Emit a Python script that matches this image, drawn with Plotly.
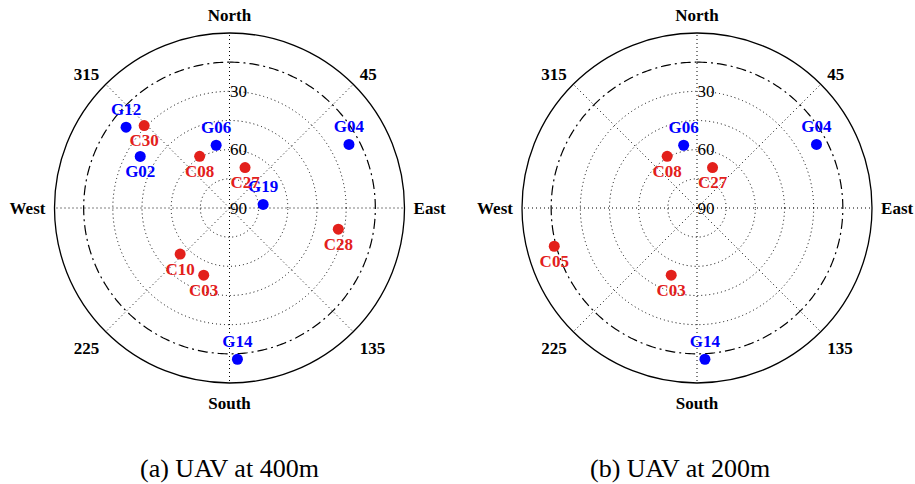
import numpy as np
import plotly.graph_objects as go

# ---------------- data ----------------
# (a) UAV at 400m
a_prn = ["G12", "C30", "G02", "G06", "C08", "C27", "G19", "G04", "C28", "C10", "C03", "G14"]
a_az = [308, 314, 300, 348, 330, 21, 84, 62, 101, 227, 201, 177]
a_el = [22.5, 29, 37, 57, 59.3, 67.7, 72.6, 20.4, 33, 55.3, 53, 12.1]
a_pos = ["top", "bottom", "bottom", "top", "bottom", "bottom", "top", "top", "bottom", "bottom", "bottom", "top"]

# (b) UAV at 200m
b_prn = ["G06", "C08", "C27", "G04", "C05", "C03", "G14"]
b_az = [348, 330, 21, 62, 255, 201, 177]
b_el = [57, 59.3, 67.7, 20.4, 14, 53, 12.1]
b_pos = ["top", "bottom", "bottom", "top", "bottom", "bottom", "top"]

captions = ["(a) UAV at 400m", "(b) UAV at 200m"]
az_ticks = [0, 45, 90, 135, 180, 225, 270, 315]
az_labels = ["North", "45", "East", "135", "South", "225", "West", "315"]
el_ticks = [90, 75, 60, 45, 30]
el_labels = ["90", "", "60", "", "30"]
mask_el = 15

BLUE = "#0000ff"
RED = "#e3201b"
SERIF = "Liberation Serif, Times New Roman, serif"
DOT = "1px,3px"

fig = go.Figure()


def add_sky(polar, prn, az, el, pos):
    # elevation mask circle (dash-dot)
    th = np.linspace(0, 360, 361)
    fig.add_trace(go.Scatterpolar(
        r=[90 - mask_el] * len(th), theta=th, mode="lines",
        line=dict(color="black", width=1.2, dash="10px,4px,2px,4px"),
        hoverinfo="skip", showlegend=False, subplot=polar))
    for sys, col in (("G", BLUE), ("C", RED)):
        idx = [i for i, p in enumerate(prn) if p.startswith(sys)]
        fig.add_trace(go.Scatterpolar(
            r=[90 - el[i] for i in idx], theta=[az[i] for i in idx],
            text=[prn[i] for i in idx],
            textposition=[pos[i] + " center" for i in idx],
            mode="markers+text",
            marker=dict(color=col, size=11),
            textfont=dict(family=SERIF, size=17, color=col, weight="bold"),
            showlegend=False, subplot=polar))


add_sky("polar", a_prn, a_az, a_el, a_pos)
add_sky("polar2", b_prn, b_az, b_el, b_pos)

polar_common = dict(
    bgcolor="white",
    angularaxis=dict(
        rotation=90, direction="clockwise",
        tickmode="array", tickvals=az_ticks, ticktext=az_labels,
        tickfont=dict(family=SERIF, size=17, color="black", weight="bold"),
        showline=True, linecolor="black", linewidth=1.3,
        showgrid=True, gridcolor="black", griddash=DOT, gridwidth=1.2,
        ticks="outside", ticklen=5, tickcolor="rgba(0,0,0,0)",
    ),
    radialaxis=dict(
        range=[0, 90], tickmode="array",
        tickvals=[90 - e for e in el_ticks], ticktext=el_labels,
        tickfont=dict(family=SERIF, size=17, color="black"),
        showline=False, showgrid=True, gridcolor="black", griddash=DOT,
        gridwidth=1.2, angle=90, tickangle=90, ticks="",
    ),
)

W, H = 915, 484
R = 175
centers = [(229.5, 208), (697, 208)]
doms = []
for cx, cy in centers:
    doms.append(dict(x=[(cx - R) / W, (cx + R) / W],
                     y=[(H - cy - R) / H, (H - cy + R) / H]))

fig.update_layout(
    width=W, height=H,
    margin=dict(l=0, r=0, t=0, b=0),
    paper_bgcolor="white",
    polar=dict(domain=doms[0], **polar_common),
    polar2=dict(domain=doms[1], **polar_common),
    annotations=[
        dict(text=captions[0], x=229.5 / W, y=(H - 468) / H, xref="paper", yref="paper",
             showarrow=False, xanchor="center", yanchor="middle",
             font=dict(family=SERIF, size=26, color="black")),
        dict(text=captions[1], x=680 / W, y=(H - 468) / H, xref="paper", yref="paper",
             showarrow=False, xanchor="center", yanchor="middle",
             font=dict(family=SERIF, size=26, color="black")),
    ],
)

fig.write_html("out.html", config={"displayModeBar": False},
               post_script="document.body.style.margin='0px';document.body.style.overflow='hidden';")
